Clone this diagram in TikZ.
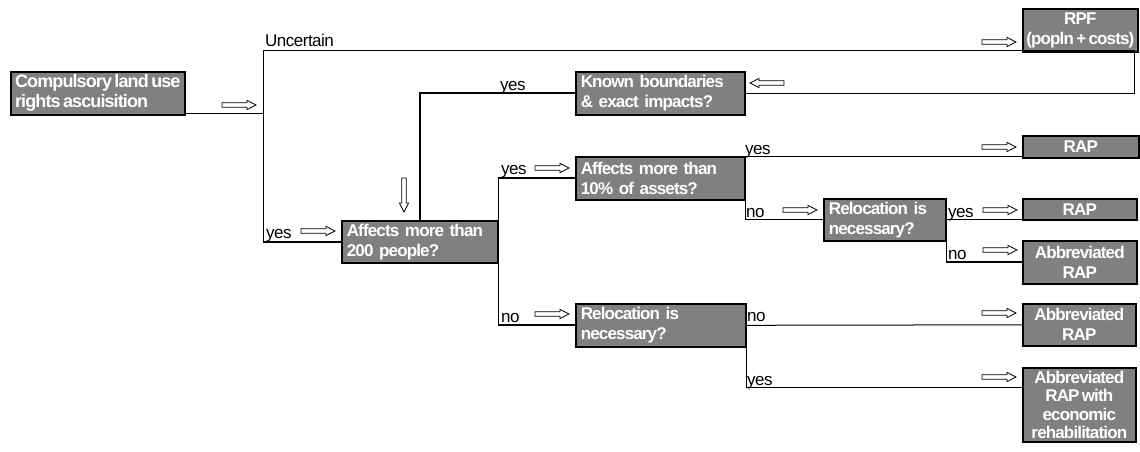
\documentclass[tikz,border=0pt]{standalone}
\usepackage{fontspec}
\setmainfont{Liberation Sans}
\newfontfamily\boxfont[LetterSpace=-5, WordSpace=0.6]{Liberation Sans}
\newfontfamily\lblfont[LetterSpace=-3]{Liberation Sans}
\usetikzlibrary{calc}

\definecolor{rpBoxFill}{RGB}{128,128,128}
\definecolor{rpLine}{RGB}{0,0,0}

\tikzset{
  qbox/.style={draw=rpLine, line width=1.6pt, fill=rpBoxFill, text=white,
    font=\boxfont\bfseries\fontsize{17}{20}\selectfont,
    anchor=north west, align=left, inner xsep=5pt, inner ysep=0pt},
  obox/.style={qbox, align=center, inner xsep=1pt},
  lbl/.style={font=\lblfont\fontsize{17}{19}\selectfont, anchor=base west, inner sep=0pt},
  link/.style={draw=rpLine, line width=1pt},
  heavy/.style={draw=rpLine, line width=1.7pt},
  harrow/.pic={\draw[line width=0.8pt, fill=white]
    (0,-2.2) -- (25,-2.2) -- (25,-4.6) -- (34,0) -- (25,4.6) -- (25,2.2) -- (0,2.2) -- cycle;}
}

\begin{document}
\begin{tikzpicture}[x=1pt, y=-1pt]
\useasboundingbox (0,0) rectangle (1140,452);
%% ── Decision boxes ───────────────────────────────────────────────────────
\node[qbox, minimum width=174pt, minimum height=43pt, inner xsep=2pt,
    font=\boxfont\bfseries\fontsize{18}{20}\selectfont]
    (start) at (10,71) {Compulsory land use\\rights ascuisition};
\node[qbox, minimum width=169pt, minimum height=43pt, text width=159pt]
    (known) at (575,71) {Known boundaries\\\& exact impacts?};
\node[qbox, minimum width=156pt, minimum height=42pt, text width=146pt]
    (aff200) at (341,220) {Affects more than\\200 people?};
\node[qbox, minimum width=169pt, minimum height=43pt, text width=159pt]
    (aff10) at (575,156) {Affects more than\\10\% of assets?};
\node[qbox, minimum width=122pt, minimum height=42pt, text width=112pt]
    (reloc1) at (823,198) {Relocation is\\necessary?};
\node[qbox, minimum width=170pt, minimum height=43pt, text width=160pt]
    (reloc2) at (575,303) {Relocation is\\necessary?};
%% ── Outcome boxes ────────────────────────────────────────────────────────
\node[obox, minimum width=115pt, minimum height=43pt]
    (rpf) at (1022,8) {RPF\\(popln + costs)};
\node[obox, minimum width=116pt, minimum height=22pt]
    (rap1) at (1022,135) {RAP};
\node[obox, minimum width=114pt, minimum height=21pt]
    (rap2) at (1022,198) {RAP};
\node[obox, minimum width=114pt, minimum height=43pt]
    (abr1) at (1022,240) {Abbreviated\\RAP};
\node[obox, minimum width=113pt, minimum height=42pt]
    (abr2) at (1022,303) {Abbreviated\\RAP};
\node[obox, minimum width=113pt, minimum height=74pt,
    font=\boxfont\bfseries\fontsize{17}{18.5}\selectfont]
    (abr3) at (1022,367) {Abbreviated\\RAP with\\economic\\rehabilitation};
%% ── Junctions ────────────────────────────────────────────────────────────
\coordinate (jL) at (263,113);
\coordinate (jTop) at (263,51);
\coordinate (jTR) at (1134,51);
\coordinate (jBR) at (1134,93);
\coordinate (jYes) at (jL |- aff200.west);
%% ── Connectors ───────────────────────────────────────────────────────────
\draw[link] (start.east |- jL) -- (jL);
\draw[link] (jL) -- (jTop) -- (jTR) -- (jBR) -- (known.east |- jBR);
\draw[link] (jL) -- (jYes);
\draw[heavy] (jYes) -- (aff200.west);
\draw[heavy] (known.west) -| (aff200.north);
\draw[heavy] (aff10.west) -| (aff200.east) |- (reloc2.west);
\draw[link] (aff10.north east) -- (aff10.north east -| rap1.west);
\draw[link] (aff10.north east) |- (reloc1.west);
\draw[link] (reloc1.east) -- (reloc1.east -| rap2.west);
\draw[heavy] (reloc1.east) |- (abr1.west);
\draw[link] (reloc2.east) -- (abr2.west);
\draw[link] (reloc2.east) |- ([yshift=-20pt]abr3.north west);
%% ── Branch labels ────────────────────────────────────────────────────────
\node[lbl] (uncertain) at (265,47) {Uncertain};
\node[lbl] (yesKnown) at (500,90) {yes};
\node[lbl] (yesStart) at (266,238) {yes};
\node[lbl] (yesAff200) at (501,174) {yes};
\node[lbl] (noAff200) at (501,322) {no};
\node[lbl] (yesAff10) at (745,154) {yes};
\node[lbl] (noAff10) at (746,217) {no};
\node[lbl] (yesReloc1) at (948,217) {yes};
\node[lbl] (noReloc1) at (948,259) {no};
\node[lbl] (noReloc2) at (747,321) {no};
\node[lbl] (yesReloc2) at (747,385) {yes};
%% ── Hollow arrows ────────────────────────────────────────────────────────
\foreach \ax/\ay in {222/105, 982/42, 301/231, 535/168, 982/147,
    783/210, 983/210, 983/250, 535/314, 982/313, 982/377}
  \pic at (\ax,\ay) {harrow};
\pic[rotate=180] at (784,83) {harrow};
\pic[rotate=-90] at (404,178) {harrow};
\end{tikzpicture}
\end{document}
